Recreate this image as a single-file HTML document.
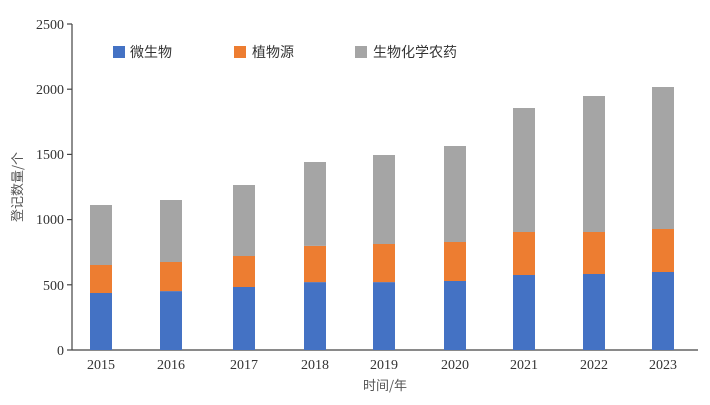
<!DOCTYPE html><html><head><meta charset="utf-8"><style>body{margin:0;background:#fff}</style></head><body>
<svg width="710" height="400" xmlns="http://www.w3.org/2000/svg" font-family="Liberation Serif, Noto Serif CJK SC, serif">
<g stroke="#444" stroke-width="1.2">
<line x1="72" y1="24" x2="72" y2="350"/><line x1="72" y1="350" x2="698" y2="350"/>
<line x1="67" y1="24" x2="72" y2="24"/><line x1="67" y1="89.2" x2="72" y2="89.2"/><line x1="67" y1="154.4" x2="72" y2="154.4"/><line x1="67" y1="219.6" x2="72" y2="219.6"/><line x1="67" y1="284.8" x2="72" y2="284.8"/><line x1="67" y1="350" x2="72" y2="350"/>
</g>
<g font-size="14" fill="#333" text-anchor="end">
<text x="64" y="29">2500</text><text x="64" y="94">2000</text><text x="64" y="159">1500</text><text x="64" y="224">1000</text><text x="64" y="290">500</text><text x="64" y="355">0</text>
</g>
<g fill="#4472C4">
<rect x="90" y="293" width="22" height="57"/>
<rect x="160" y="291.1" width="22" height="58.9"/>
<rect x="233" y="287" width="22" height="63"/>
<rect x="304" y="282.1" width="22" height="67.9"/>
<rect x="373" y="282.1" width="22" height="67.9"/>
<rect x="444" y="281" width="22" height="69"/>
<rect x="513" y="275" width="22" height="75"/>
<rect x="583" y="274" width="22" height="76"/>
<rect x="652" y="272" width="22" height="78"/>
</g>
<g fill="#ED7D31">
<rect x="90" y="265" width="22" height="28"/>
<rect x="160" y="262" width="22" height="29.1"/>
<rect x="233" y="256" width="22" height="31"/>
<rect x="304" y="245.9" width="22" height="36.2"/>
<rect x="373" y="244" width="22" height="38.1"/>
<rect x="444" y="242" width="22" height="39"/>
<rect x="513" y="232" width="22" height="43"/>
<rect x="583" y="232" width="22" height="42"/>
<rect x="652" y="229" width="22" height="43"/>
</g>
<g fill="#A5A5A5">
<rect x="90" y="205" width="22" height="60"/>
<rect x="160" y="200" width="22" height="62"/>
<rect x="233" y="185" width="22" height="71"/>
<rect x="304" y="162" width="22" height="83.9"/>
<rect x="373" y="155" width="22" height="89"/>
<rect x="444" y="146" width="22" height="96"/>
<rect x="513" y="108" width="22" height="124"/>
<rect x="583" y="96" width="22" height="136"/>
<rect x="652" y="87" width="22" height="142"/>
</g>
<g font-size="14" fill="#333" text-anchor="middle">
<text x="101" y="369">2015</text><text x="171" y="369">2016</text><text x="244" y="369">2017</text><text x="315" y="369">2018</text><text x="384" y="369">2019</text><text x="455" y="369">2020</text><text x="524" y="369">2021</text><text x="594" y="369">2022</text><text x="663" y="369">2023</text>
<text x="385" y="390" font-family="Noto Sans CJK SC, sans-serif" font-size="13" fill="#555">时间/年</text>
<text transform="translate(22,187) rotate(-90)" font-family="Noto Sans CJK SC, sans-serif" font-size="13" fill="#555">登记数量/个</text>
</g>
<g font-family="Noto Sans CJK SC, sans-serif" font-size="14" fill="#333">
<rect x="113" y="46" width="12" height="12" fill="#4472C4"/><text x="130" y="57">微生物</text>
<rect x="234" y="46" width="12" height="12" fill="#ED7D31"/><text x="252" y="57">植物源</text>
<rect x="355" y="46" width="12" height="12" fill="#A5A5A5"/><text x="373" y="57">生物化学农药</text>
</g>
</svg></body></html>
